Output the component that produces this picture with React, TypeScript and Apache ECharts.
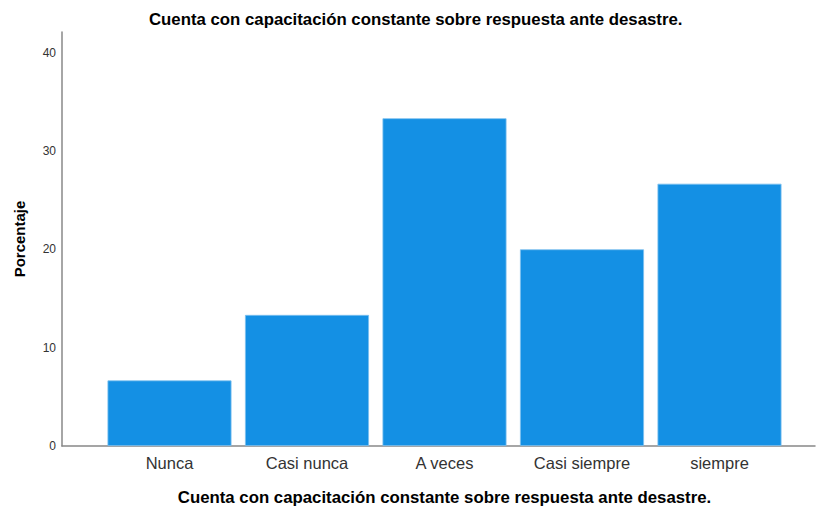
import React, { useEffect, useRef } from "react";
import * as echarts from "echarts";

const categories = ["Nunca", "Casi nunca", "A veces", "Casi siempre", "siempre"];
const values = [6.67, 13.33, 33.33, 20.0, 26.67];
const yTicksMax = 42.1;
const titleText = "Cuenta con capacitación constante sobre respuesta ante desastre.";
const yName = "Porcentaje";

const FONT = "'Liberation Sans', Arial, sans-serif";

export default function App() {
  const ref = useRef<HTMLDivElement>(null);
  useEffect(() => {
    if (!ref.current) return;
    const chart = echarts.init(ref.current, undefined, { renderer: "svg" });
    chart.setOption({
      animation: false,
      backgroundColor: "#ffffff",
      textStyle: { fontFamily: FONT },
      title: {
        text: titleText,
        left: 144,
        top: 6,
        textStyle: { fontFamily: FONT, fontSize: 16.8, fontWeight: "bold", color: "#000" },
      },
      grid: [
        { left: 100.75, right: 28.75, top: 32, bottom: 62, outerBoundsMode: "none", containLabel: false },
        { left: 62, right: 2, top: 32, bottom: 62, outerBoundsMode: "none", containLabel: false },
      ],
      xAxis: [
        {
          type: "category",
          gridIndex: 0,
          data: categories,
          axisLine: { show: false },
          axisTick: { show: false },
          axisLabel: { fontSize: 16.5, color: "#333", margin: 8, fontFamily: FONT },
          name: titleText,
          nameLocation: "middle",
          nameGap: 43,
          nameTextStyle: { fontSize: 16.8, fontWeight: "bold", color: "#000", fontFamily: FONT },
        },
        {
          type: "value",
          gridIndex: 1,
          min: 0,
          max: 1,
          axisLine: { show: true, onZero: false, lineStyle: { color: "#888", width: 1.5 } },
          axisTick: { show: false },
          axisLabel: { show: false },
          splitLine: { show: false },
        },
      ],
      yAxis: [
        {
          type: "value",
          gridIndex: 0,
          min: 0,
          max: yTicksMax,
          show: false,
          splitLine: { show: false },
        },
        {
          type: "value",
          gridIndex: 1,
          min: 0,
          max: yTicksMax,
          interval: 10,
          axisLine: { show: true, lineStyle: { color: "#888", width: 1.5 } },
          axisTick: { show: false },
          splitLine: { show: false },
          axisLabel: { fontSize: 12, color: "#333", margin: 6, fontFamily: FONT, showMaxLabel: false },
          name: yName,
          nameLocation: "middle",
          nameGap: 35,
          nameRotate: 90,
          nameTextStyle: { fontSize: 15, fontWeight: "bold", color: "#000", fontFamily: FONT },
        },
      ],
      series: [
        {
          type: "bar",
          xAxisIndex: 0,
          yAxisIndex: 0,
          data: values,
          barWidth: 124,
          itemStyle: { color: "#1490E4", borderColor: "#7cc0ef", borderWidth: 0.8 },
        },
      ],
    });
    return () => chart.dispose();
  }, []);
  return (
    <div
      ref={ref}
      style={{ position: "fixed", left: 0, top: 0, width: 817, height: 508 }}
    />
  );
}
